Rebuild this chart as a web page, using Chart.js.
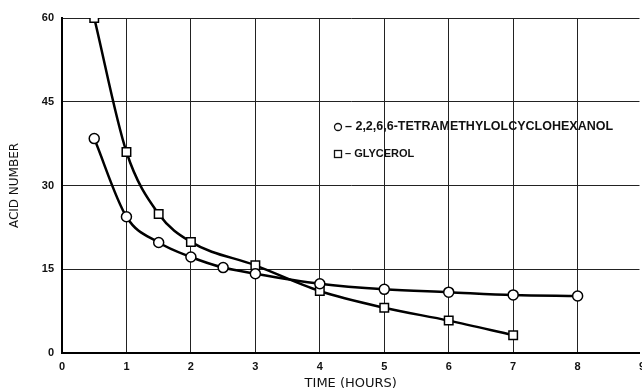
<!DOCTYPE html>
<html>
<head>
<meta charset="utf-8">
<script src="https://cdn.jsdelivr.net/npm/chart.js@4"></script>
<style>
  html, body { margin: 0; padding: 0; background: #fff; overflow: hidden; }
  /* the original axis runs on past the picture's right edge, so the canvas does too */
  #wrap { width: 642px; height: 391px; overflow: hidden; }
</style>
</head>
<body>
<div id="wrap"><canvas id="ch" width="647" height="391"></canvas></div>
<script>
// data
const timeHours = [0.5, 1, 1.5, 2, 2.5, 3, 4, 5, 6, 7, 8];
const tetraAcid = [38.4, 24.4, 19.8, 17.2, 15.3, 14.2, 12.4, 11.4, 10.9, 10.4, 10.2];
const glycTime = [0.5, 1, 1.5, 2, 3, 4, 5, 6, 7];
const glycAcid = [60, 36, 24.9, 19.9, 15.7, 11.1, 8.1, 5.8, 3.2];
const xTicks = [0, 1, 2, 3, 4, 5, 6, 7, 8, 9];
const yTicks = [0, 15, 30, 45, 60];
const legendLabels = ['\u2013 2,2,6,6-TETRAMETHYLOLCYCLOHEXANOL', '\u2013 GLYCEROL'];

const FONT = 'Liberation Sans';
const FONT2 = 'DejaVu Sans';

const pts = (xs, ys) => xs.map((x, i) => ({ x: x, y: ys[i] }));

// text key inside the plot, like the original
const keyPlugin = {
  id: 'key',
  afterDraw(chart) {
    const c = chart.ctx;
    c.save();
    c.font = 'bold 11px "' + FONT + '"';
    // fit the long label to the width it has in the picture
    const w = c.measureText(legendLabels[0]).width;
    const size = 11 * 268 / w;
    c.font = 'bold ' + size.toFixed(2) + 'px "' + FONT + '"';
    c.fillStyle = '#111';
    c.strokeStyle = '#111';
    c.lineWidth = 1.3;
    c.textBaseline = 'middle';
    c.beginPath();
    c.arc(338, 127, 3.5, 0, Math.PI * 2);
    c.stroke();
    c.fillText(legendLabels[0], 345, 127);
    c.strokeRect(334.5, 150.5, 7, 7);
    c.font = 'bold 11px "' + FONT + '"';
    c.fillText(legendLabels[1], 345, 154);
    c.restore();
  }
};

const ctx = document.getElementById('ch').getContext('2d');
const chart = new Chart(ctx, {
  type: 'scatter',
  data: {
    datasets: [{
      label: 'tetra',
      data: pts(timeHours, tetraAcid),
      showLine: true,
      cubicInterpolationMode: 'monotone',
      borderColor: '#000',
      borderWidth: 2.5,
      pointStyle: 'circle',
      pointRadius: 5,
      pointBackgroundColor: '#fff',
      pointBorderColor: '#000',
      pointBorderWidth: 1.5
    }, {
      label: 'glycerol',
      data: pts(glycTime, glycAcid),
      showLine: true,
      cubicInterpolationMode: 'monotone',
      borderColor: '#000',
      borderWidth: 2.5,
      pointStyle: 'rect',
      pointRadius: 6,
      pointBackgroundColor: '#fff',
      pointBorderColor: '#000',
      pointBorderWidth: 1.5
    }]
  },
  options: {
    responsive: false,
    animation: false,
    layout: { padding: { top: 18, right: 0, left: 8, bottom: 0 } },
    plugins: { legend: { display: false }, tooltip: { enabled: false } },
    scales: {
      x: {
        type: 'linear',
        min: 0, max: 8.96,
        afterBuildTicks: s => { s.ticks = xTicks.map(v => ({ value: v })); },
        afterFit: s => { s.height = 38; s.paddingLeft = 0; s.paddingRight = 0; },
        ticks: { color: '#111', font: { family: FONT, size: 11, weight: 'bold' }, padding: 7, maxRotation: 0 },
        grid: { color: '#222', lineWidth: 1, drawTicks: false },
        border: { color: '#000', width: 2 },
        title: { display: true, text: 'TIME (HOURS)', color: '#111', font: { family: FONT2, size: 13 }, padding: { top: 0, bottom: 0 } }
      },
      y: {
        min: 0, max: 60,
        afterBuildTicks: s => { s.ticks = yTicks.map(v => ({ value: v })); },
        afterFit: s => { s.width = 54; s.paddingTop = 0; s.paddingBottom = 0; },
        ticks: { color: '#111', font: { family: FONT, size: 11, weight: 'bold' }, padding: 8 },
        grid: { color: '#222', lineWidth: 1, drawTicks: false },
        border: { color: '#000', width: 2 },
        title: { display: true, text: 'ACID NUMBER', color: '#111', font: { family: FONT2, size: 12 }, padding: { top: 0, bottom: 0 } }
      }
    }
  },
  plugins: [keyPlugin]
});
</script>
</body>
</html>
